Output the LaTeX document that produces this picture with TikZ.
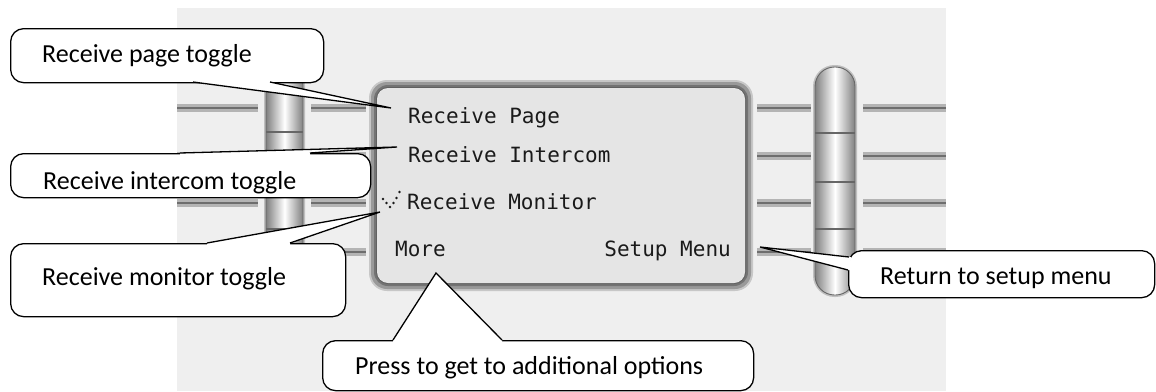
\documentclass[tikz,border=0pt]{standalone}
\usepackage{fontspec}
\setmainfont{Carlito}
\newfontfamily\lcdfont{DejaVu Sans Mono}
\usetikzlibrary{calc}
\definecolor{bgc}{HTML}{EFEFEF}
\definecolor{lcdfill}{HTML}{E5E5E5}
\definecolor{bandlight}{HTML}{B4B4B4}
\definecolor{banddark}{HTML}{6E6E6E}
\definecolor{baredge}{HTML}{808080}
\definecolor{lcdtext}{HTML}{1A1A1A}
\tikzset{
  band/.style={line width=8pt, bandlight},
  bandcore/.style={line width=2.2pt, banddark},
  barbody/.style={draw=black!60, line width=0.9pt, left color=baredge, right color=baredge, middle color=white},
  barhalo/.style={draw=black!25, line width=4pt},
  divider/.style={draw=black!60, line width=1.1pt},
  callbox/.style={draw=black, line width=1.3pt, fill=white, rounded corners=13pt, inner sep=0pt},
  calltext/.style={inner sep=0pt, font=\fontsize{26}{31}\selectfont, text=black},
  callline/.style={draw=black, line width=1.3pt, line join=miter},
  lcdlabel/.style={inner sep=0pt, font=\lcdfont\fontsize{21}{25}\selectfont, text=lcdtext},
  chkdot/.style={fill=lcdtext}
}
\begin{document}
\begin{tikzpicture}[x=1pt,y=-1pt]
\useasboundingbox (0,0) rectangle (1156,391);
\fill[white] (0,0) rectangle (1156,391);
\fill[bgc] (177,8) rectangle (946,391);

% horizontal bands
\foreach \yy in {108,156,203,252}{
  \draw[band] (177,\yy) -- (258,\yy);
  \draw[bandcore] (177,\yy) -- (258,\yy);
  \draw[band] (311,\yy) -- (366,\yy);
  \draw[bandcore] (311,\yy) -- (366,\yy);
  \draw[band] (757,\yy) -- (811,\yy);
  \draw[bandcore] (757,\yy) -- (811,\yy);
  \draw[band] (863,\yy) -- (946,\yy);
  \draw[bandcore] (863,\yy) -- (946,\yy);
}

% vertical bars
\draw[barhalo, rounded corners=18pt] (266,67) rectangle (303,295);
\path[barbody, rounded corners=18pt] (266,67) rectangle (303,295);
\foreach \yy in {132,182,229}{\draw[divider] (266,\yy) -- (303,\yy);}
\draw[barhalo, rounded corners=19.5pt] (815,67) rectangle (855,295);
\path[barbody, rounded corners=19.5pt] (815,67) rectangle (855,295);
\foreach \yy in {133,182,229}{\draw[divider] (815,\yy) -- (855,\yy);}

% LCD screen
\fill[black!22, rounded corners=18pt] (369,80) rectangle (753,291);
\fill[black!40, rounded corners=16pt] (371,82) rectangle (751,289);
\fill[black!55, rounded corners=14pt] (374,85) rectangle (748,286);
\fill[black!62, rounded corners=12pt] (376,87) rectangle (746,284);
\fill[lcdfill, rounded corners=11pt] (377,88) rectangle (745,283);

\node[lcdlabel, anchor=base west] (lp) at (408,123) {Receive Page};
\node[lcdlabel, anchor=base west] (li) at (408,162) {Receive Intercom};
\node[lcdlabel, anchor=base west] (lm) at (407,209) {Receive Monitor};
\node[lcdlabel, anchor=base west] (lmore) at (395,256) {More};
\node[lcdlabel, anchor=base east] (lsetup) at (731,256) {Setup Menu};
\foreach \px/\py in {383/199,386.5/203,390/207,393.5/203,396.5/198,399.5/192}{
  \fill[chkdot] (\px,\py) circle (1.3pt);
}

% callout 1: receive page toggle
\node[callbox, minimum width=313pt, minimum height=54pt, anchor=north west] (c1) at (10,28) {};
\node[calltext, anchor=base west] (t1) at (42,62) {Receive page toggle};
\coordinate (p1a) at (193,82);
\coordinate (p1b) at (270,82);
\coordinate (p1t) at (391,108);
\fill[white] (p1a) -- (p1t) -- (p1b) -- ($(p1b)+(0,-2)$) -- ($(p1a)+(0,-2)$) -- cycle;
\draw[callline] (p1a) -- (p1t) -- (p1b);

% callout 2: receive intercom toggle
\node[callbox, minimum width=360pt, minimum height=44pt, anchor=north west] (c2) at (10,153) {};
\node[calltext, anchor=base west] (t2) at (43,189) {Receive intercom toggle};
\coordinate (p2a) at (180,153);
\coordinate (p2b) at (310,153);
\coordinate (p2t) at (397,147);
\fill[white] (p2a) -- (p2t) -- (p2b) -- ($(p2b)+(0,2)$) -- ($(p2a)+(0,2)$) -- cycle;
\draw[callline] (p2a) -- (p2t) -- (p2b);

% callout 3: receive monitor toggle
\node[callbox, minimum width=335pt, minimum height=73pt, anchor=north west] (c3) at (10,243) {};
\node[calltext, anchor=base west] (t3) at (42,285) {Receive monitor toggle};
\coordinate (p3a) at (207,243);
\coordinate (p3b) at (290,243);
\coordinate (p3t) at (380,212);
\fill[white] (p3a) -- (p3t) -- (p3b) -- ($(p3b)+(0,2)$) -- ($(p3a)+(0,2)$) -- cycle;
\draw[callline] (p3a) -- (p3t) -- (p3b);

% callout 4: press to get to additional options
\node[callbox, minimum width=431pt, minimum height=50pt, anchor=north west] (c4) at (322,340) {};
\node[calltext, anchor=base west] (t4) at (355,374) {Press to get to additional options};
\coordinate (p4a) at (393,340);
\coordinate (p4b) at (502,340);
\coordinate (p4t) at (436,273);
\fill[white] (p4a) -- (p4t) -- (p4b) -- ($(p4b)+(0,2)$) -- ($(p4a)+(0,2)$) -- cycle;
\draw[callline] (p4a) -- (p4t) -- (p4b);

% callout 5: return to setup menu
\node[callbox, minimum width=306pt, minimum height=47pt, anchor=north west] (c5) at (848,250) {};
\node[calltext, anchor=base west] (t5) at (880,284) {Return to setup menu};
\coordinate (p5a) at (849,257);
\coordinate (p5b) at (848,270);
\coordinate (p5t) at (760,247);
\fill[white] (p5a) -- (p5t) -- (p5b) -- ($(p5b)+(2,0)$) -- ($(p5a)+(2,0)$) -- cycle;
\draw[callline] (p5a) -- (p5t) -- (p5b);
\end{tikzpicture}
\end{document}
